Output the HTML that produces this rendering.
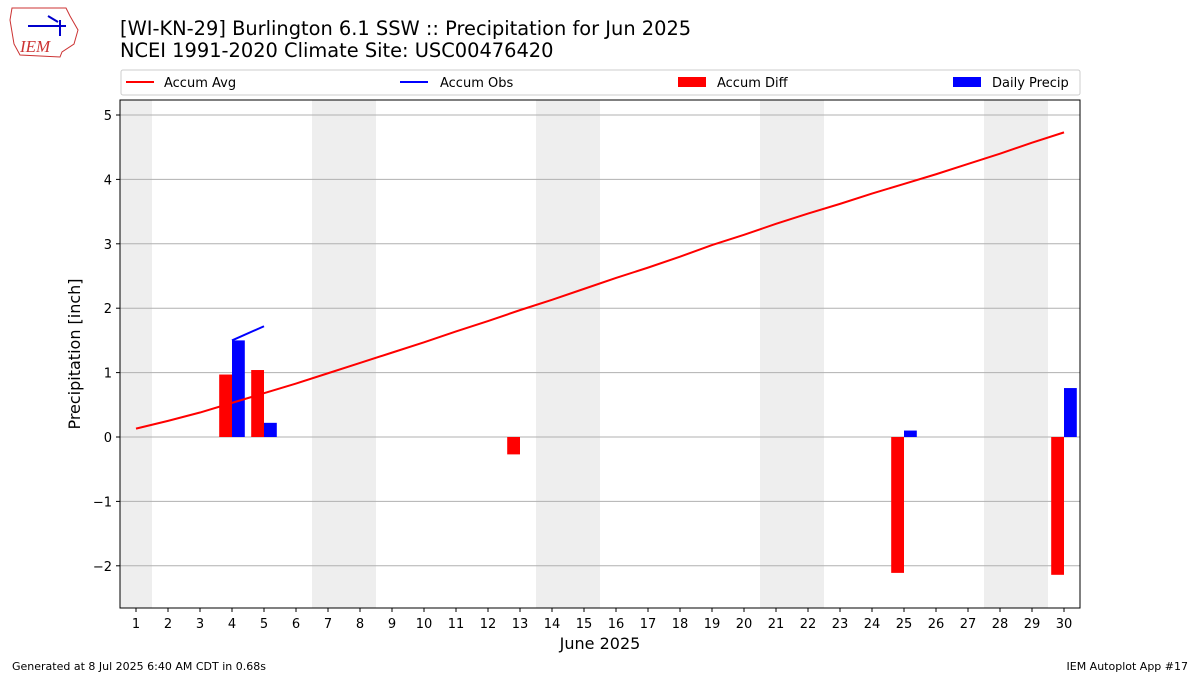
<!DOCTYPE html>
<html><head><meta charset="utf-8"><style>
body{margin:0;background:#fff;font-family:"Liberation Sans","DejaVu Sans",sans-serif}
</style></head><body>
<svg id="c" width="1200" height="675" xmlns="http://www.w3.org/2000/svg" font-family="DejaVu Sans, Liberation Sans, sans-serif">
<g>
<path d="M12,8 L66,8 L70,16 L78,30 L74,44 L62,52 L60,57 L20,55 L14,44 L10,20 Z" fill="#fff" stroke="#c33" stroke-width="1"/>
<text x="20" y="52" font-size="17" font-style="italic" fill="#c33" font-family="Liberation Serif, serif">IEM</text>
<path d="M28,26 L66,26 M48,16 L58,22 M60,20 L60,36" stroke="#00c" stroke-width="2" fill="none"/>
</g>
<text x="120" y="35" font-size="19.4">[WI-KN-29] Burlington 6.1 SSW :: Precipitation for Jun 2025</text>
<text x="120" y="57" font-size="19.4">NCEI 1991-2020 Climate Site: USC00476420</text>
<g>
<rect x="121" y="70" width="959" height="25" fill="#fff" stroke="#ccc" rx="2"/>
<line x1="126" y1="82" x2="154" y2="82" stroke="red" stroke-width="2"/><text x="164" y="87" font-size="13">Accum Avg</text>
<line x1="400" y1="82" x2="428" y2="82" stroke="blue" stroke-width="2"/><text x="440" y="87" font-size="13">Accum Obs</text>
<rect x="678" y="77" width="28" height="10" fill="red"/><text x="717" y="87" font-size="13">Accum Diff</text>
<rect x="953" y="77" width="28" height="10" fill="blue"/><text x="992" y="87" font-size="13">Daily Precip</text>
</g>
<g id="plot"></g>
<text x="600" y="649" font-size="16" text-anchor="middle">June 2025</text>
<text transform="translate(80,354) rotate(-90)" font-size="16" text-anchor="middle">Precipitation [inch]</text>
<text x="12" y="670" font-size="11">Generated at 8 Jul 2025 6:40 AM CDT in 0.68s</text>
<text x="1188" y="670" font-size="11" text-anchor="end">IEM Autoplot App #17</text>
</svg>
<script>
const days=[1,2,3,4,5,6,7,8,9,10,11,12,13,14,15,16,17,18,19,20,21,22,23,24,25,26,27,28,29,30];
const accumAvg=[0.13,0.25,0.38,0.53,0.68,0.83,0.99,1.15,1.31,1.47,1.64,1.80,1.97,2.13,2.30,2.47,2.63,2.80,2.98,3.14,3.31,3.47,3.62,3.78,3.93,4.08,4.24,4.40,4.57,4.73];
const obsDays=[4,5];
const accumObs=[1.50,1.72];
const diffDays=[4,5,13,25,30];
const accumDiff=[0.97,1.04,-0.27,-2.11,-2.14];
const precipDays=[4,5,25,30];
const dailyPrecip=[1.50,0.22,0.10,0.76];
const weekends=[1,7,8,14,15,21,22,28,29];
const yTicks=[-2,-1,0,1,2,3,4,5];
const ns="http://www.w3.org/2000/svg";
const L=120,R=1080,T=100,B=608;
const X=d=>L+(d-0.5)*(R-L)/30;
const Y=v=>437-v*64.4;
const g=document.getElementById('plot');
function mk(t,a){const e=document.createElementNS(ns,t);for(const k in a)e.setAttribute(k,a[k]);g.appendChild(e);return e;}
weekends.forEach(d=>{const e=mk('rect',{x:X(d-0.5),y:T,width:X(d+0.5)-X(d-0.5),height:B-T,fill:'#eee'});

});
yTicks.forEach(v=>{const l=mk('line',{x1:L,x2:R,y1:Y(v),y2:Y(v),stroke:'#b0b0b0','stroke-width':1});


const tk=mk('line',{x1:L-4,x2:L,y1:Y(v),y2:Y(v),stroke:'#000'});


const t=mk('text',{x:L-8,y:Y(v)+5,'font-size':13,'text-anchor':'end'});t.textContent=(v<0?'\u2212'+(-v):v);

});
days.forEach(d=>{const tk=mk('line',{x1:X(d),x2:X(d),y1:B,y2:B+4,stroke:'#000'});


const t=mk('text',{x:X(d),y:B+20,'font-size':13,'text-anchor':'middle'});t.textContent=d;

});
const bw=(R-L)/30*0.4;
diffDays.forEach((d,i)=>{const v=accumDiff[i];const r=mk('rect',{x:X(d)-bw,y:Math.min(Y(v),Y(0)),width:bw,height:Math.abs(Y(v)-Y(0)),fill:'red'});

});
precipDays.forEach((d,i)=>{const v=dailyPrecip[i];const r=mk('rect',{x:X(d),y:Math.min(Y(v),Y(0)),width:bw,height:Math.abs(Y(v)-Y(0)),fill:'blue'});

});
const pa=mk('polyline',{points:days.map((d,i)=>X(d)+','+Y(accumAvg[i])).join(' '),fill:'none',stroke:'red','stroke-width':2});


const po=mk('polyline',{points:obsDays.map((d,i)=>X(d)+','+Y(accumObs[i])).join(' '),fill:'none',stroke:'blue','stroke-width':2});


const fr=mk('rect',{x:L,y:T,width:R-L,height:B-T,fill:'none',stroke:'#000'});


</script>
</body></html>
